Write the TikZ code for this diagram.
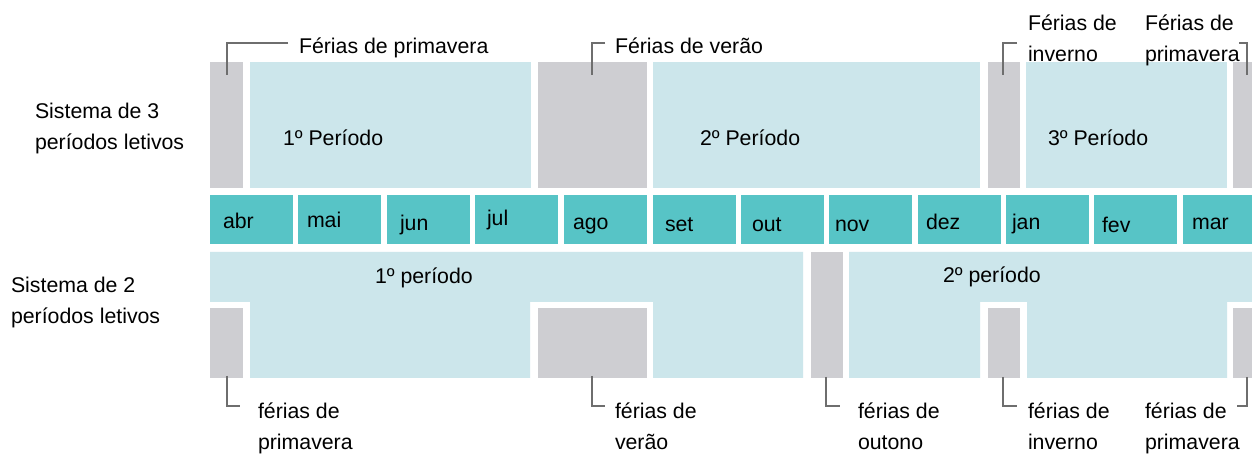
\documentclass[tikz,border=0pt]{standalone}
\usepackage{fontspec}
\setmainfont{Liberation Sans}
\usetikzlibrary{fit}
\definecolor{pblue}{HTML}{CCE6EB}
\definecolor{mteal}{HTML}{57C4C6}
\definecolor{hgray}{HTML}{CECED2}
\definecolor{lgray}{HTML}{6E6E6E}
\begin{document}
\begin{tikzpicture}[x=1bp,y=-1bp,
  blk/.style={rectangle,inner sep=0pt,outer sep=0pt,draw=none},
  per/.style={blk,fill=pblue},
  hol/.style={blk,fill=hgray},
  mon/.style={blk,fill=mteal},
  txt/.style={inner sep=0pt,outer sep=0pt,anchor=base west,font=\fontsize{21.3bp}{31bp}\selectfont,align=left},
  brk/.style={draw=lgray,line width=2.6bp}]
\useasboundingbox (0,0) rectangle (1252,455);
\fill[white] (0,0) rectangle (1252,455);

% ---- sistema de 3 periodos
\node[hol,fit={(210,62) (243,188)}] (h3a) {};
\node[per,fit={(250,62) (531,188)}] (p31) {};
\node[hol,fit={(538,62) (647,188)}] (h3b) {};
\node[per,fit={(653,62) (980,188)}] (p32) {};
\node[hol,fit={(988,62) (1020,188)}] (h3c) {};
\node[per,fit={(1026,62) (1227,188)}] (p33) {};
\node[hol,fit={(1233,62) (1252,188)}] (h3d) {};

% ---- meses
\node[mon,fit={(210,195) (293,244)}] (m1) {};
\node[mon,fit={(298,195) (381,244)}] (m2) {};
\node[mon,fit={(387,195) (470,244)}] (m3) {};
\node[mon,fit={(475,195) (558,244)}] (m4) {};
\node[mon,fit={(564,195) (647,244)}] (m5) {};
\node[mon,fit={(653,195) (736,244)}] (m6) {};
\node[mon,fit={(741,195) (824,244)}] (m7) {};
\node[mon,fit={(829,195) (912,244)}] (m8) {};
\node[mon,fit={(918,195) (1001,244)}] (m9) {};
\node[mon,fit={(1006,195) (1089,244)}] (m10) {};
\node[mon,fit={(1094,195) (1177,244)}] (m11) {};
\node[mon,fit={(1183,195) (1252,244)}] (m12) {};
\node[txt] (t1) at (223,229) {abr};
\node[txt] (t2) at (307,228) {mai};
\node[txt] (t3) at (400,231) {jun};
\node[txt] (t4) at (487,226) {jul};
\node[txt] (t5) at (573,230) {ago};
\node[txt] (t6) at (665,232) {set};
\node[txt] (t7) at (752,232) {out};
\node[txt] (t8) at (835,232) {nov};
\node[txt] (t9) at (926,230) {dez};
\node[txt] (t10) at (1012,230) {jan};
\node[txt] (t11) at (1102,233) {fev};
\node[txt] (t12) at (1192,230) {mar};

% ---- sistema de 2 periodos
\fill[pblue] (210,252) rectangle (803,302) (250,301) rectangle (530,378) (653,301) rectangle (803,378);
\node[hol,fit={(210,308) (243,378)}] (h2a) {};
\node[hol,fit={(538,308) (647,378)}] (h2b) {};
\node[hol,fit={(811,252) (843,378)}] (h2c) {};
\fill[pblue] (849,252) rectangle (1252,302) (849,301) rectangle (980,378) (1027,301) rectangle (1227,378);
\node[hol,fit={(988,308) (1020,378)}] (h2d) {};
\node[hol,fit={(1233,308) (1252,378)}] (h2e) {};

% ---- textos (base = last line's baseline)
\node[txt] (s3) at (35,150) {Sistema de 3\\períodos letivos};
\node[txt] (s2) at (11,324) {Sistema de 2\\períodos letivos};
\node[txt] (l31) at (283,146) {1º Período};
\node[txt] (l32) at (700,146) {2º Período};
\node[txt] (l33) at (1048,146) {3º Período};
\node[txt] (l21) at (375,284) {1º período};
\node[txt] (l22) at (943,283) {2º período};

\node[txt] (f1) at (299,54) {Férias de primavera};
\node[txt] (f2) at (615,54) {Férias de verão};
\node[txt] (f3) at (1028,62) {Férias de\\inverno};
\node[txt] (f4) at (1145,62) {Férias de\\primavera};
\node[txt] (g1) at (258,450) {férias de\\primavera};
\node[txt] (g2) at (615,450) {férias de\\verão};
\node[txt] (g3) at (858,450) {férias de\\outono};
\node[txt] (g4) at (1028,450) {férias de\\inverno};
\node[txt] (g5) at (1145,450) {férias de\\primavera};

% ---- colchetes
\coordinate (a1) at (288,43);  \coordinate (b1) at (227,75);
\coordinate (a2) at (605,43);  \coordinate (b2) at (592,75);
\coordinate (a3) at (1017,43); \coordinate (b3) at (1003,75);
\coordinate (a4) at (1239,43); \coordinate (b4) at (1247,75);
\draw[brk] (a1) -| (b1);
\draw[brk] (a2) -| (b2);
\draw[brk] (a3) -| (b3);
\draw[brk] (a4) -| (b4);
\coordinate (c1) at (227,376);  \coordinate (d1) at (240,406);
\coordinate (c2) at (592,376);  \coordinate (d2) at (605,406);
\coordinate (c3) at (826,377);  \coordinate (d3) at (840,406);
\coordinate (c4) at (1003,377); \coordinate (d4) at (1017,406);
\coordinate (c5) at (1247,377); \coordinate (d5) at (1237,406);
\draw[brk] (c1) |- (d1);
\draw[brk] (c2) |- (d2);
\draw[brk] (c3) |- (d3);
\draw[brk] (c4) |- (d4);
\draw[brk] (c5) |- (d5);
\end{tikzpicture}
\end{document}
